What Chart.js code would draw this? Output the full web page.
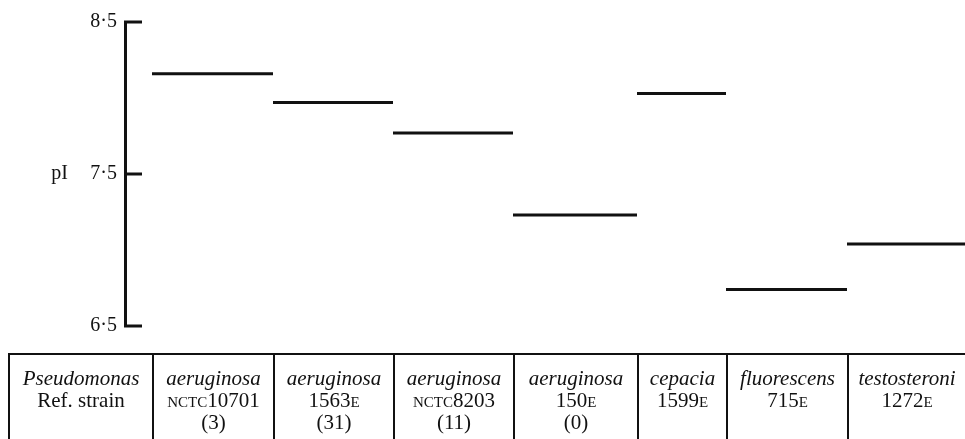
<!DOCTYPE html>
<html>
<head>
<meta charset="utf-8">
<script src="https://cdn.jsdelivr.net/npm/chart.js@4/dist/chart.umd.min.js"></script>
<style>
    html, body { margin: 0; padding: 0; background: #fff; }
    body { width: 965px; height: 439px; overflow: hidden; position: relative; font-family: "Liberation Serif", "DejaVu Serif", serif; color: #111; }
    #chart { position: absolute; left: 0; top: 0; }
    #strainTable { position: absolute; left: 8px; top: 353px; display: flex; border-top: 2px solid #111; height: 90px; }
    #strainTable .cell { box-sizing: border-box; border-left: 2px solid #111; text-align: center; font-size: 21px; line-height: 22px; padding-top: 12px; }
    #strainTable .name { font-style: italic; }
    .sc { font-variant: small-caps; }
</style>
</head>
<body>
<canvas id="chart" width="965" height="354"></canvas>
<div id="strainTable"></div>
<script>
(() => {
    // strains as listed under the chart
    const species = ["aeruginosa", "aeruginosa", "aeruginosa", "aeruginosa", "cepacia", "fluorescens", "testosteroni"];
    const strainPrefix = ["nctc", "", "nctc", "", "", "", ""];
    const strainNumber = ["10701", "1563", "8203", "150", "1599", "715", "1272"];
    const strainSuffix = ["", "e", "", "e", "e", "e", "e"];
    const counts = ["(3)", "(31)", "(11)", "(0)", "", "", ""];

    // isoelectric point read for each strain
    const pI = [8.16, 7.97, 7.77, 7.23, 8.03, 6.74, 7.04];
    const yTicks = [6.5, 7.5, 8.5];

    // table column widths (px); first column is the reference label
    const colWidths = [144, 121, 120, 120, 124, 89, 121, 118];
    const tableLeft = 8;
    const axisLeft = 125;

    const edges = [0];
    colWidths.forEach((w) => edges.push(edges[edges.length - 1] + w));

    // table
    const table = document.getElementById("strainTable");
    const addCell = (width, html) => {
        const div = document.createElement("div");
        div.className = "cell";
        div.style.width = width + "px";
        div.innerHTML = html;
        table.appendChild(div);
    };
    addCell(colWidths[0], '<span class="name">Pseudomonas</span><br>Ref. strain');
    species.forEach((name, i) => {
        let code = "";
        if (strainPrefix[i]) {
            code += '<span class="sc">' + strainPrefix[i] + "</span>";
        }
        code += strainNumber[i];
        if (strainSuffix[i]) {
            code += '<span class="sc">' + strainSuffix[i] + "</span>";
        }
        let html = '<span class="name">' + name + "</span><br>" + code;
        if (counts[i]) {
            html += "<br>" + counts[i];
        }
        addCell(colWidths[i + 1], html);
    });

    // one short horizontal line per strain, spanning its table column
    const datasets = pI.map((value, i) => ({
        label: species[i] + " " + strainNumber[i],
        data: [
            { x: edges[i + 1], y: value },
            { x: edges[i + 2], y: value }
        ],
        borderColor: "#111",
        borderWidth: 3,
        borderCapStyle: "butt",
        pointRadius: 0,
        fill: false
    }));

    const axisMarks = {
        id: "axisMarks",
        afterDraw(chart) {
            const scale = chart.scales.y;
            const ctx = chart.ctx;
            ctx.save();
            ctx.strokeStyle = "#111";
            ctx.lineWidth = 3;
            ctx.lineCap = "butt";
            yTicks.forEach((value) => {
                const py = Math.round(scale.getPixelForValue(value));
                ctx.beginPath();
                ctx.moveTo(scale.right - 1, py);
                ctx.lineTo(scale.right + 17, py);
                ctx.stroke();
            });
            ctx.fillStyle = "#111";
            ctx.font = '20px "Liberation Serif"';
            ctx.textAlign = "right";
            ctx.textBaseline = "middle";
            ctx.fillText("pI", 68, scale.getPixelForValue(7.5));
            ctx.restore();
        }
    };

    new Chart(document.getElementById("chart"), {
        type: "line",
        data: { datasets },
        options: {
            responsive: false,
            animation: false,
            devicePixelRatio: 1,
            layout: { padding: { left: 0, right: 0, top: 22, bottom: 28 } },
            plugins: {
                legend: { display: false },
                tooltip: { enabled: false }
            },
            scales: {
                x: {
                    type: "linear",
                    display: false,
                    min: axisLeft - tableLeft,
                    max: edges[edges.length - 1]
                },
                y: {
                    type: "linear",
                    min: 6.5,
                    max: 8.5,
                    afterFit: (s) => { s.width = axisLeft; },
                    afterBuildTicks: (s) => { s.ticks = yTicks.map((v) => ({ value: v })); },
                    grid: { display: false, drawTicks: false },
                    border: { display: true, color: "#111", width: 3 },
                    ticks: {
                        padding: 8,
                        color: "#111",
                        font: { family: "Liberation Serif", size: 20 },
                        callback: (v) => v.toFixed(1).replace(".", "\u00b7")
                    }
                }
            }
        },
        plugins: [axisMarks]
    });
})();
</script>
</body>
</html>
